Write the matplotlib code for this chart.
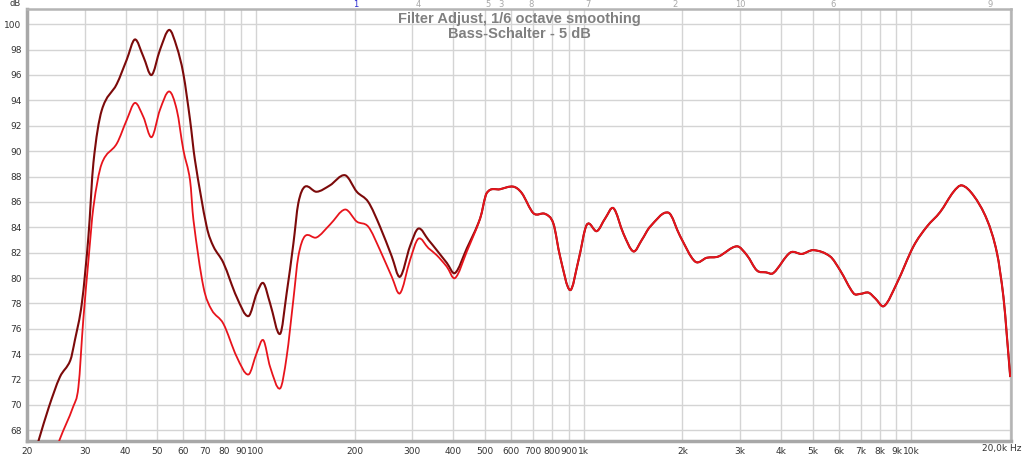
import numpy as np
import matplotlib
matplotlib.use("Agg")
import matplotlib.pyplot as plt
from matplotlib.path import Path
from matplotlib.patches import PathPatch

# Low-frequency part differs between the two measurements
freq_dark = [21.0, 21.7, 23.3, 25.2, 27.1, 28.0, 29.4, 30.8, 31.9, 33.8, 37.6, 40.3,
             42.7, 45.3, 48.0, 50.9, 54.3, 57.3, 60.0, 62.9, 65.1, 70.7, 74.1, 79.5,
             87.3, 94.8, 100.5, 105.3, 110.4, 118.4, 124, 130, 134.6, 141, 153, 168,
             187, 203, 220, 239, 259.6, 275, 295, 313, 336, 356, 382, 405, 440]
db_dark = [66.0, 67.2, 69.8, 72.2, 73.5, 75.1, 78.0, 83.3, 89.1, 93.2, 95.3, 97.2,
           98.8, 97.45, 96.0, 97.97, 99.55, 98.2, 96.1, 92.46, 89.3, 84.05, 82.5, 81.2,
           78.5, 77.0, 78.8, 79.6, 78.0, 75.6, 78.8, 82.7, 85.9, 87.2, 86.8, 87.3,
           88.1, 86.8, 86.0, 84.05, 81.7, 80.1, 82.5, 83.9, 83.0, 82.2, 81.2, 80.4, 82.35]

freq_red = [24.3, 25.1, 27.7, 28.7, 29.7, 30.8, 31.9, 33.8, 37.6, 40.3, 42.7, 45.3,
            48.0, 50.9, 54.3, 57.3, 60.0, 62.9, 64.4, 69.1, 73.2, 79.5, 87.3, 94.8,
            100.5, 105.3, 110.4, 118.4, 124, 130, 134.6, 141, 153, 168, 187, 203,
            220, 239, 259.6, 275, 295, 313, 336, 356, 382, 405, 440]
db_red = [66.0, 67.2, 69.9, 71.4, 76.7, 81.4, 85.6, 89.0, 90.6, 92.45, 93.8, 92.7,
          91.1, 93.25, 94.7, 93.25, 90.1, 87.7, 84.6, 79.3, 77.5, 76.4, 73.8, 72.4,
          74.1, 75.1, 73.0, 71.3, 73.8, 78.3, 81.7, 83.3, 83.2, 84.2, 85.4, 84.45,
          84.05, 82.2, 80.1, 78.8, 81.4, 83.1, 82.35, 81.8, 80.9, 80.0, 82.1]

# Above ~480 Hz both curves coincide
freq_high = [483, 506, 556, 610, 647, 703, 763, 808, 847, 909, 964, 1022, 1097, 1163,
             1233, 1322, 1418, 1504, 1595, 1814, 1969, 2188, 2376, 2578, 2934, 3148,
             3377, 3600, 3794, 4266, 4632, 5026, 5652, 6064, 6660, 6977, 7400, 7756,
             8260, 9034, 10150, 11150, 12240, 13450, 14260, 15480, 17010, 18240,
             19100, 19570, 20030]
db_high = [84.7, 86.7, 87.0, 87.2, 86.7, 85.1, 85.05, 84.3, 81.7, 79.05, 81.4, 84.2,
           83.7, 84.7, 85.5, 83.5, 82.1, 83.0, 84.05, 85.15, 83.3, 81.3, 81.6, 81.7,
           82.5, 81.8, 80.6, 80.45, 80.4, 82.0, 81.9, 82.2, 81.7, 80.6, 78.8, 78.75,
           78.85, 78.4, 77.8, 79.6, 82.5, 84.05, 85.2, 86.8, 87.3, 86.5, 84.6, 82.0,
           78.5, 75.4, 72.2]

x_ticks = [20, 30, 40, 50, 60, 70, 80, 90, 100, 200, 300, 400, 500, 600, 700, 800,
           900, 1000, 2000, 3000, 4000, 5000, 6000, 7000, 8000, 9000, 10000]
x_labels = ["20", "30", "40", "50", "60", "70", "80", "90", "100", "200", "300", "400",
            "500", "600", "700", "800", "900", "1k", "2k", "3k", "4k", "5k", "6k", "7k",
            "8k", "9k", "10k"]
y_ticks = list(range(68, 101, 2))

# small marker numbers along the top edge (x position in Hz)
marker_freqs = [201, 313, 511, 560, 690, 1030, 1900, 3010, 5770, 17400]
marker_labels = ["1", "4", "5", "3", "8", "7", "2", "10", "6", "9"]


def smooth_path(freqs, dbs):
    # cubic Hermite curve through the read points, in log-frequency space
    lx = np.log10(freqs)
    y = np.asarray(dbs, dtype=float)
    n = len(lx)
    m = np.zeros(n)
    m[0] = (y[1] - y[0]) / (lx[1] - lx[0])
    m[-1] = (y[-1] - y[-2]) / (lx[-1] - lx[-2])
    m[1:-1] = (y[2:] - y[:-2]) / (lx[2:] - lx[:-2])
    verts = [(lx[0], y[0])]
    codes = [Path.MOVETO]
    for i in range(n - 1):
        dx = lx[i + 1] - lx[i]
        verts += [(lx[i] + dx / 3, y[i] + m[i] * dx / 3),
                  (lx[i + 1] - dx / 3, y[i + 1] - m[i + 1] * dx / 3),
                  (lx[i + 1], y[i + 1])]
        codes += [Path.CURVE4] * 3
    verts = np.array(verts)
    verts[:, 0] = 10 ** verts[:, 0]
    return Path(verts, codes)


fig = plt.figure(figsize=(10.24, 4.55), dpi=100)
ax = fig.add_axes([27 / 1024, 1 - 441 / 455, 984 / 1024, 432 / 455])

ax.set_xscale("log")
ax.set_xlim(20, 20140)
ax.set_ylim(67.16, 101.2)

ax.set_xticks(x_ticks)
ax.set_xticklabels(x_labels)
ax.xaxis.set_minor_locator(matplotlib.ticker.NullLocator())
ax.set_yticks(y_ticks)
ax.tick_params(length=0, labelsize=6.5, colors="#333333", pad=4)
ax.grid(True, color="#d4d4d4", lw=1)
ax.axvline(20000, color="#d4d4d4", lw=1)

for side in ["left", "bottom"]:
    ax.spines[side].set_color("#a8a8a8")
    ax.spines[side].set_linewidth(2.5)
for side in ["top", "right"]:
    ax.spines[side].set_color("#b4b4b4")
    ax.spines[side].set_linewidth(1.8)

ax.add_patch(PathPatch(smooth_path(freq_dark + freq_high, db_dark + db_high),
                       fill=False, edgecolor="#7c0a0a", lw=1.5, zorder=3))
ax.add_patch(PathPatch(smooth_path(freq_red + freq_high, db_red + db_high),
                       fill=False, edgecolor="#e8141c", lw=1.3, zorder=4))

ax.set_title("Filter Adjust, 1/6 octave smoothing\nBass-Schalter - 5 dB",
             fontsize=10.5, fontweight="bold", color="#808080",
             family=["Liberation Sans Narrow", "Liberation Sans"],
             y=1.0, pad=-21, linespacing=1.1)

fig.text(15 / 1024, 1 - 4 / 455, "dB", fontsize=6, color="#333333", ha="center", va="center")
fig.text(1021 / 1024, 1 - 448 / 455, "20,0k Hz", fontsize=6.5, color="#333333",
         ha="right", va="center")

for f, lab in zip(marker_freqs, marker_labels):
    c = "#2a2ad0" if lab == "1" else "#a8a8a8"
    ax.text(f, 1.0, lab, transform=ax.get_xaxis_transform(), fontsize=6, color=c,
            ha="center", va="bottom")

fig.savefig("out.png", dpi=100)
